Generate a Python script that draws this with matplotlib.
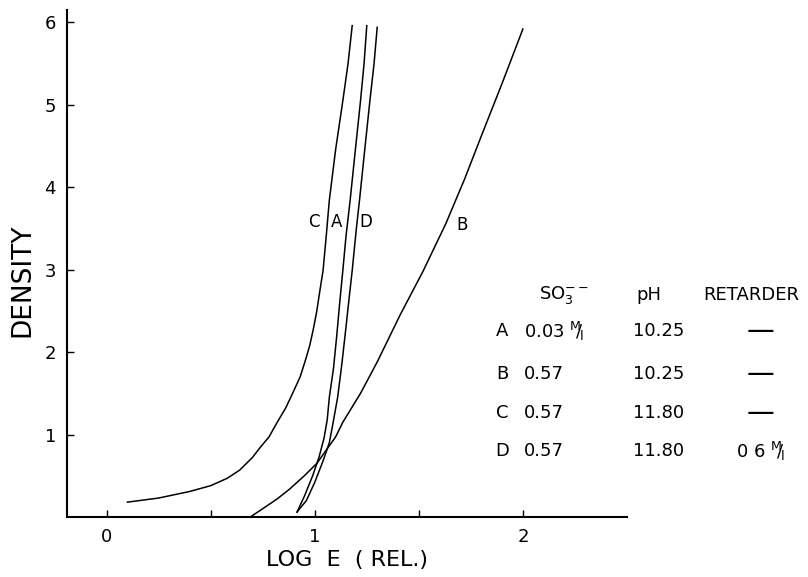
import matplotlib
matplotlib.use('Agg')
import matplotlib.pyplot as plt

# curves: log E (rel.) vs density
a_x = [0.915, 0.95, 0.99, 1.02, 1.045, 1.06, 1.07, 1.09, 1.105, 1.12, 1.135, 1.15, 1.17, 1.195, 1.22, 1.237, 1.25]
a_y = [0.06, 0.25, 0.50, 0.72, 0.96, 1.18, 1.45, 1.80, 2.18, 2.60, 2.99, 3.40, 3.84, 4.45, 5.05, 5.50, 5.96]

b_x = [0.69, 0.75, 0.82, 0.88, 0.95, 1.01, 1.10, 1.135, 1.22, 1.30, 1.41, 1.52, 1.63, 1.72, 1.80, 1.90, 2.00]
b_y = [0.0, 0.10, 0.22, 0.34, 0.50, 0.65, 0.97, 1.15, 1.50, 1.88, 2.45, 2.98, 3.56, 4.10, 4.62, 5.26, 5.92]

c_x = [0.10, 0.25, 0.40, 0.50, 0.58, 0.64, 0.70, 0.74, 0.78, 0.82, 0.86, 0.89, 0.93, 0.955, 0.976, 0.995, 1.01, 1.025, 1.04, 1.055, 1.07, 1.10, 1.135, 1.16, 1.18]
c_y = [0.18, 0.23, 0.31, 0.38, 0.47, 0.57, 0.72, 0.85, 0.97, 1.15, 1.32, 1.48, 1.70, 1.90, 2.08, 2.30, 2.50, 2.75, 2.99, 3.40, 3.84, 4.45, 5.05, 5.50, 5.96]

d_x = [0.915, 0.96, 1.00, 1.04, 1.07, 1.085, 1.11, 1.13, 1.15, 1.165, 1.18, 1.20, 1.215, 1.24, 1.265, 1.285, 1.30]
d_y = [0.06, 0.20, 0.42, 0.68, 0.90, 1.10, 1.45, 1.85, 2.30, 2.65, 2.99, 3.50, 3.84, 4.45, 5.05, 5.50, 5.94]

# curve labels
lab_names = ['C', 'A', 'D', 'B']
lab_x = [0.995, 1.105, 1.245, 1.71]
lab_y = [3.58, 3.58, 3.58, 3.54]

# table of conditions
rows = ['A', 'B', 'C', 'D']
so3 = [r'0.03 $^{\mathregular{M}}\!\!/_{\!\mathregular{l}}$', '0.57', '0.57', '0.57']
ph = ['10.25', '10.25', '11.80', '11.80']
retarder = ['—', '—', '—', r'0 6 $^{\mathregular{M}}\!\!/_{\!\mathregular{l}}$']

W, H = 808, 577
fig = plt.figure(figsize=(W / 100, H / 100), dpi=100)
ax = fig.add_axes([67 / W, 1 - 517 / H, (627 - 67) / W, (517 - 10) / H])

for xs, ys in [(a_x, a_y), (b_x, b_y), (c_x, c_y), (d_x, d_y)]:
    ax.plot(xs, ys, color='black', lw=1.1)

for n, x, y in zip(lab_names, lab_x, lab_y):
    ax.text(x, y, n, fontsize=12, ha='center', va='center')

ax.set_xlim(-0.19, 2.5)
ax.set_ylim(0, 6.15)
ax.set_xticks([0, 1, 2])
ax.set_xticks([0.5, 1.5], minor=True)
ax.set_yticks([1, 2, 3, 4, 5, 6])
ax.tick_params(direction='in', length=5, width=1, labelsize=13, pad=8)
ax.tick_params(which='minor', direction='in', length=5, width=1)
for s in ['top', 'right']:
    ax.spines[s].set_visible(False)
ax.spines['left'].set_linewidth(1.5)
ax.spines['bottom'].set_linewidth(1.5)

ax.set_xlabel('LOG  E  ( REL.)', fontsize=16, labelpad=3)
fig.text(22 / W, 1 - 280 / H, 'DENSITY', rotation=90, fontsize=19, ha='center', va='center')

# table (pixel positions converted to figure fractions)
def fx(px):
    return px / W

def fy(py):
    return 1 - py / H

tfs = 13
fig.text(fx(564), fy(295), r'SO$_3^{--}$', fontsize=tfs, ha='center', va='center')
fig.text(fx(649), fy(295), 'pH', fontsize=tfs, ha='center', va='center')
fig.text(fx(751), fy(295), 'RETARDER', fontsize=tfs, ha='center', va='center')
row_y = [331, 374, 413, 451]
for r, s, p, t, yy in zip(rows, so3, ph, retarder, row_y):
    fig.text(fx(502), fy(yy), r, fontsize=tfs, ha='center', va='center')
    fig.text(fx(524), fy(yy), s, fontsize=tfs, ha='left', va='center')
    fig.text(fx(633), fy(yy), p, fontsize=tfs, ha='left', va='center')
    fig.text(fx(760), fy(yy), t, fontsize=tfs if t != '—' else 20, ha='center', va='center')

fig.savefig('out.png', dpi=100)
